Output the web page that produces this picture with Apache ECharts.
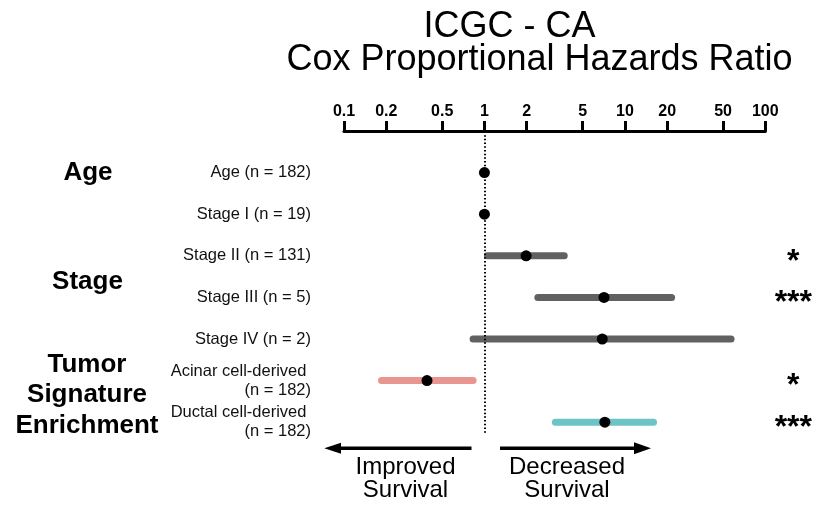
<!DOCTYPE html>
<html>
<head>
<meta charset="utf-8">
<script src="https://cdn.jsdelivr.net/npm/echarts@6/dist/echarts.min.js"></script>
<style>
  html, body { margin: 0; padding: 0; background: #fff; }
  #chart { width: 815px; height: 509px; }
</style>
</head>
<body>
<div id="chart"></div>
<script>
// ---- data ----
const categories = [
  'Age (n = 182)',
  'Stage I (n = 19)',
  'Stage II (n = 131)',
  'Stage III (n = 5)',
  'Stage IV (n = 2)',
  'Acinar cell-derived \n(n = 182)',
  'Ductal cell-derived \n(n = 182)'
];
const hazardRatio = [1.0, 1.0, 1.98, 7.1, 6.9, 0.39, 7.2];
const ciLower     = [0.99, 1.0, 1.05, 2.4, 0.83, 0.185, 3.2];
const ciUpper     = [1.02, 1.0, 3.7, 21.5, 57, 0.83, 16];
const significance = ['', '', '*', '***', '', '*', '***'];
const tickValues = [0.1, 0.2, 0.5, 1, 2, 5, 10, 20, 50, 100];
const groupLabels = ['Age', 'Stage', 'Tumor\nSignature\nEnrichment'];
const directionLabels = ['Improved\nSurvival', 'Decreased\nSurvival'];
const titleLines = ['ICGC - CA', 'Cox Proportional Hazards Ratio'];

// ---- styles ----
const barColors = ['#616161', '#616161', '#616161', '#616161', '#616161', '#E8968F', '#6CC4C6'];
const FONT = 'Liberation Sans, Arial, Helvetica, sans-serif';

const chart = echarts.init(document.getElementById('chart'), null, { renderer: 'canvas' });

const rowIdx = categories.map((_, i) => i);
const ciData = rowIdx.map(i => [ciLower[i], ciUpper[i], i]);
const ptData = rowIdx.map(i => [hazardRatio[i], i]);

const yCommon = {
  type: 'value',
  inverse: true,
  min: -1,
  max: 6.26,
  interval: 1,
  splitLine: { show: false },
  axisLine: { show: false },
  axisTick: { show: false }
};

const option = {
  backgroundColor: '#fff',
  animation: false,
  grid: { left: 344, right: 48, top: 131, bottom: 76, containLabel: false },
  xAxis: {
    type: 'log',
    logBase: 10,
    min: 0.1,
    max: 100,
    position: 'top',
    splitLine: { show: false },
    axisLine: { show: true, onZero: false, lineStyle: { color: '#000', width: 3 } },
    axisTick: { show: true, customValues: tickValues, length: 10, lineStyle: { color: '#000', width: 3 } },
    axisLabel: {
      show: true,
      customValues: tickValues,
      margin: 11,
      color: '#000',
      fontFamily: FONT,
      fontWeight: 'bold',
      fontSize: 16,
      formatter: v => String(v)
    },
    minorTick: { show: false }
  },
  yAxis: [
    Object.assign({}, yCommon, {
      position: 'left',
      axisLabel: {
        margin: 33,
        color: '#111',
        fontFamily: FONT,
        fontSize: 16.5,
        lineHeight: 19,
        align: 'right',
        formatter: v => (Number.isInteger(v) && v >= 0 && v < categories.length) ? categories[v] : ''
      }
    }),
    Object.assign({}, yCommon, {
      position: 'right',
      axisLabel: {
        margin: 28,
        color: '#000',
        fontFamily: FONT,
        fontWeight: 'bold',
        fontSize: 32,
        align: 'center',
        verticalAlign: 'top',
        lineHeight: 12,
        formatter: v => (Number.isInteger(v) && v >= 0 && v < significance.length) ? significance[v] : ''
      }
    })
  ],
  series: [
    {
      type: 'custom',
      name: 'CI',
      coordinateSystem: 'cartesian2d',
      encode: { x: [0, 1], y: 2 },
      data: ciData,
      renderItem: function (params, api) {
        const i = api.value(2);
        const p1 = api.coord([api.value(0), i]);
        const p2 = api.coord([api.value(1), i]);
        return {
          type: 'line',
          shape: { x1: p1[0], y1: p1[1], x2: p2[0], y2: p2[1] },
          style: { stroke: barColors[i], lineWidth: 7, lineCap: 'round' }
        };
      },
      z: 2
    },
    {
      type: 'scatter',
      name: 'HR',
      data: ptData,
      symbol: 'circle',
      symbolSize: 11,
      itemStyle: { color: '#000', opacity: 1 },
      z: 3,
      markLine: {
        silent: true,
        symbol: 'none',
        label: { show: false },
        lineStyle: { color: '#000', width: 2, type: [1.5, 2.2] },
        data: [[{ coord: [1, -0.9] }, { coord: [1, 6.26] }]]
      }
    }
  ],
  graphic: [
    { type: 'text', x: 509.5, y: 27.5, style: { text: titleLines[0], font: '36px ' + FONT, fill: '#000', textAlign: 'center', textVerticalAlign: 'middle' } },
    { type: 'text', x: 539.5, y: 60, style: { text: titleLines[1], font: '36px ' + FONT, fill: '#000', textAlign: 'center', textVerticalAlign: 'middle' } },
    { type: 'text', x: 88, y: 173, style: { text: groupLabels[0], font: 'bold 26px ' + FONT, fill: '#000', textAlign: 'center', textVerticalAlign: 'middle' } },
    { type: 'text', x: 87.5, y: 282, style: { text: groupLabels[1], font: 'bold 26px ' + FONT, fill: '#000', textAlign: 'center', textVerticalAlign: 'middle' } },
    { type: 'text', x: 87, y: 395, style: { text: groupLabels[2], font: 'bold 26px ' + FONT, lineHeight: 30.5, fill: '#000', textAlign: 'center', textVerticalAlign: 'middle' } },
    // direction arrows
    { type: 'line', shape: { x1: 471.5, y1: 448.3, x2: 336, y2: 448.3 }, style: { stroke: '#000', lineWidth: 3.5 } },
    { type: 'polygon', shape: { points: [[324.3, 448.3], [341, 442.8], [341, 453.8]] }, style: { fill: '#000' } },
    { type: 'line', shape: { x1: 500, y1: 448.3, x2: 638, y2: 448.3 }, style: { stroke: '#000', lineWidth: 3.5 } },
    { type: 'polygon', shape: { points: [[651, 448.3], [634, 442.3], [634, 454.3]] }, style: { fill: '#000' } },
    { type: 'text', x: 405.5, y: 479, style: { text: directionLabels[0], font: '24px ' + FONT, lineHeight: 22.5, fill: '#000', textAlign: 'center', textVerticalAlign: 'middle' } },
    { type: 'text', x: 567, y: 479, style: { text: directionLabels[1], font: '24px ' + FONT, lineHeight: 22.5, fill: '#000', textAlign: 'center', textVerticalAlign: 'middle' } }
  ]
};

chart.setOption(option);
</script>
</body>
</html>
